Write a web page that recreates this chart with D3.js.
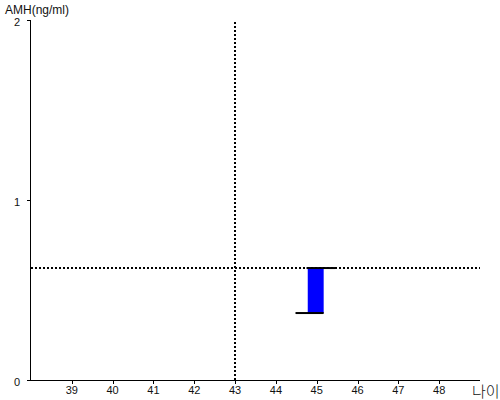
<!DOCTYPE html>
<html>
<head>
<meta charset="utf-8">
<script src="https://cdn.jsdelivr.net/npm/d3@7.9.0/dist/d3.min.js"></script>
<style>
  body { margin: 0; background: #fff; }
  svg { display: block; font-family: Arial, "Liberation Sans", sans-serif; }
</style>
</head>
<body>
<svg id="chart" width="500" height="400"></svg>
<script>
// data
const xTicks = [39, 40, 41, 42, 43, 44, 45, 46, 47, 48];
const yTicks = [0, 1, 2];
const refAge = 43;
const refAmh = 0.62;
// bar: age range and AMH range
const barAge = [44.78, 45.17];
const barAmh = [0.372, 0.622];
const lowLine = [44.48, 45.17];   // bottom whisker at barAmh[0]
const highLine = [44.75, 45.45];  // top whisker at barAmh[1]

const svg = d3.select('#chart');
const x = d3.scaleLinear().domain([38, 49]).range([31, 480]);
const y = d3.scaleLinear().domain([0, 2]).range([380, 20]);

// axes
svg.append('line')
  .attr('x1', x(38)).attr('x2', x(49))
  .attr('y1', y(0) + 0.5).attr('y2', y(0) + 0.5)
  .attr('stroke', '#000').attr('stroke-width', 1);
svg.append('line')
  .attr('x1', x(38) - 0.5).attr('x2', x(38) - 0.5)
  .attr('y1', y(2)).attr('y2', y(0))
  .attr('stroke', '#000').attr('stroke-width', 1);

// x ticks
xTicks.forEach(t => {
  svg.append('line')
    .attr('x1', Math.round(x(t)) + 0.5).attr('x2', Math.round(x(t)) + 0.5)
    .attr('y1', y(0)).attr('y2', y(0) + 4)
    .attr('stroke', '#000');
  svg.append('text')
    .attr('x', x(t)).attr('y', 394)
    .attr('text-anchor', 'middle')
    .attr('font-size', 11)
    .attr('fill', '#111')
    .text(t);
});

// y ticks
yTicks.forEach(t => {
  svg.append('line')
    .attr('x1', x(38) - 4).attr('x2', x(38))
    .attr('y1', Math.round(y(t)) + 0.5).attr('y2', Math.round(y(t)) + 0.5)
    .attr('stroke', '#000');
  svg.append('text')
    .attr('x', 20).attr('y', y(t) + 5.5)
    .attr('text-anchor', 'end')
    .attr('font-size', 11)
    .attr('fill', '#111')
    .text(t);
});

// reference dotted lines
svg.append('line')
  .attr('x1', Math.round(x(refAge))).attr('x2', Math.round(x(refAge)))
  .attr('y1', y(2) + 2).attr('y2', y(0))
  .attr('stroke', '#000').attr('stroke-width', 2)
  .attr('stroke-dasharray', '2,2');
svg.append('line')
  .attr('x1', x(38)).attr('x2', x(49))
  .attr('y1', Math.round(y(refAmh))).attr('y2', Math.round(y(refAmh)))
  .attr('stroke', '#000').attr('stroke-width', 2)
  .attr('stroke-dasharray', '2,2');

// bar
svg.append('rect')
  .attr('x', x(barAge[0])).attr('width', x(barAge[1]) - x(barAge[0]))
  .attr('y', y(barAmh[1])).attr('height', y(barAmh[0]) - y(barAmh[1]))
  .attr('fill', '#0000ff');
svg.append('line')
  .attr('x1', x(lowLine[0])).attr('x2', x(lowLine[1]))
  .attr('y1', y(barAmh[0])).attr('y2', y(barAmh[0]))
  .attr('stroke', '#000').attr('stroke-width', 2);
svg.append('line')
  .attr('x1', x(highLine[0])).attr('x2', x(highLine[1]))
  .attr('y1', y(barAmh[1])).attr('y2', y(barAmh[1]))
  .attr('stroke', '#000').attr('stroke-width', 2);

// titles
svg.append('text')
  .attr('x', 5).attr('y', 14)
  .attr('font-size', 12)
  .attr('fill', '#111')
  .text('AMH(ng/ml)');
svg.append('text')
  .attr('x', 472).attr('y', 397)
  .attr('font-size', 15)
  .attr('font-weight', 300)
  .attr('font-family', '"Noto Sans CJK KR", sans-serif')
  .attr('fill', '#111')
  .text('나이');
</script>
</body>
</html>
